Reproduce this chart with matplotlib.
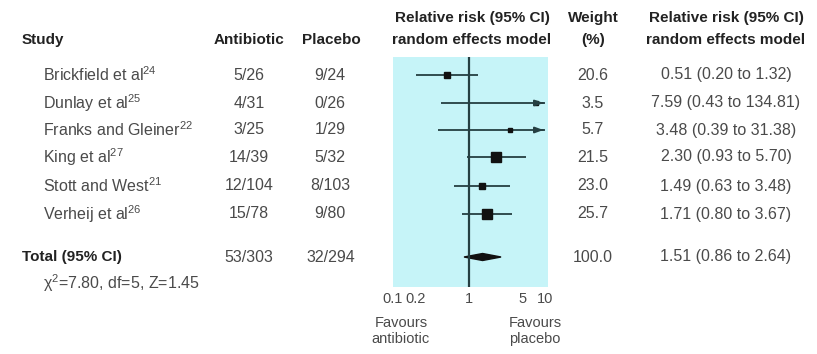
import numpy as np
import matplotlib.pyplot as plt
from matplotlib.patches import Polygon

# data
studies = ["Brickfield et al", "Dunlay et al", "Franks and Gleiner", "King et al",
           "Stott and West", "Verheij et al"]
refs = ["24", "25", "22", "27", "21", "26"]
antibiotic = ["5/26", "4/31", "3/25", "14/39", "12/104", "15/78"]
placebo = ["9/24", "0/26", "1/29", "5/32", "8/103", "9/80"]
rr = [0.51, 7.59, 3.48, 2.30, 1.49, 1.71]
lo = [0.20, 0.43, 0.39, 0.93, 0.63, 0.80]
hi = [1.32, 134.81, 31.38, 5.70, 3.48, 3.67]
weight = [20.6, 3.5, 5.7, 21.5, 23.0, 25.7]
total_counts = ["53/303", "32/294"]
total_rr, total_lo, total_hi = 1.51, 0.86, 2.64
total_weight = 100.0
stats_text = r"$\mathrm{\chi}^2$=7.80, df=5, Z=1.45"
xticks = [0.1, 0.2, 1, 5, 10]
xticklabels = ["0.1", "0.2", "1", "5", "10"]

# layout (pixels)
W, H = 817, 354
row_y = [75, 103, 130, 157, 186, 214]
total_y = 257
msize = [4, 3.5, 2.5, 7, 4, 6.5]

plt.rcParams["font.family"] = ["Liberation Sans", "DejaVu Sans"]
plt.rcParams["mathtext.fontset"] = "custom"
plt.rcParams["mathtext.rm"] = "Liberation Sans"
plt.rcParams["mathtext.it"] = "Liberation Sans"

gray = "#4a4a4a"
dark = "#222222"
line_col = "#253f42"
fs = 11.5
hfs = 11
sfs = 10.5

fig = plt.figure(figsize=(W / 100, H / 100), dpi=100)
bg = fig.add_axes([0, 0, 1, 1])
bg.set_xlim(0, W)
bg.set_ylim(H, 0)
bg.axis("off")

# forest panel, log scale: 1 sits at x=469 px, 76 px per decade
x0, x1 = 393, 548
y0, y1 = 57, 287
decade = 76.0
ax = fig.add_axes([x0 / W, 1 - y1 / H, (x1 - x0) / W, (y1 - y0) / H])
ax.set_xscale("log")
ax.set_xlim(10 ** ((x0 - 469) / decade), 10 ** ((x1 - 469) / decade))
ax.set_ylim(y1, y0)
ax.set_facecolor("#c6f4f8")
for s in ax.spines.values():
    s.set_visible(False)
ax.set_xticks([])
ax.set_yticks([])
ax.minorticks_off()
ax.axvline(1, color=line_col, lw=1.6)

for i in range(len(rr)):
    y = row_y[i]
    right = min(hi[i], 10)
    ax.plot([lo[i], right], [y, y], color=line_col, lw=1.3, solid_capstyle="butt")
    if hi[i] > 10:
        ax.annotate("", xy=(10.4, y), xytext=(8.5, y),
                    arrowprops=dict(arrowstyle="-|>,head_length=0.5,head_width=0.18",
                                    color=line_col, lw=1.3))
    ax.plot(rr[i], y, marker="s", ms=msize[i], color="#111111", mec="#111111")

# pooled estimate as a diamond
dia = Polygon([[total_lo, total_y], [total_rr, total_y - 3.5],
               [total_hi, total_y], [total_rr, total_y + 3.5]],
              closed=True, color="#111111")
ax.add_patch(dia)


def px_of(v):
    return 469 + np.log10(v) * decade


for t, lab in zip(xticks, xticklabels):
    bg.text(px_of(t), 299, lab, color=gray, fontsize=sfs, ha="center", va="center")
bg.text(401, 331, "Favours\nantibiotic", color=gray, fontsize=sfs,
        ha="center", va="center", linespacing=1.1)
bg.text(535, 331, "Favours\nplacebo", color=gray, fontsize=sfs,
        ha="center", va="center", linespacing=1.1)

# headers
hkw = dict(color=dark, fontsize=hfs, fontweight="bold", va="center")
bg.text(22, 40, "Study", ha="left", **hkw)
bg.text(249, 40, "Antibiotic", ha="center", **hkw)
bg.text(331, 40, "Placebo", ha="center", **hkw)
bg.text(472, 18, "Relative risk (95% CI)", ha="center", **hkw)
bg.text(472, 40, "random effects model", ha="center", **hkw)
bg.text(593, 18, "Weight", ha="center", **hkw)
bg.text(593, 40, "(%)", ha="center", **hkw)
bg.text(726, 18, "Relative risk (95% CI)", ha="center", **hkw)
bg.text(726, 40, "random effects model", ha="center", **hkw)

# study rows
for i in range(len(studies)):
    y = row_y[i]
    bg.text(43, y, studies[i] + r"$^{\mathrm{" + refs[i] + "}}$", color=gray, fontsize=fs,
            ha="left", va="center")
    bg.text(249, y, antibiotic[i], color=gray, fontsize=fs, ha="center", va="center")
    bg.text(330, y, placebo[i], color=gray, fontsize=fs, ha="center", va="center")
    bg.text(593, y, f"{weight[i]:.1f}", color=gray, fontsize=fs, ha="center", va="center")
    bg.text(726, y, f"{rr[i]:.2f} ({lo[i]:.2f} to {hi[i]:.2f})", color=gray,
            fontsize=fs, ha="center", va="center")

bg.text(22, total_y, "Total (95% CI)", ha="left", **hkw)
bg.text(249, total_y, total_counts[0], color=gray, fontsize=fs, ha="center", va="center")
bg.text(331, total_y, total_counts[1], color=gray, fontsize=fs, ha="center", va="center")
bg.text(593, total_y, f"{total_weight:.1f}", color=gray, fontsize=fs, ha="center", va="center")
bg.text(726, total_y, f"{total_rr:.2f} ({total_lo:.2f} to {total_hi:.2f})", color=gray,
        fontsize=fs, ha="center", va="center")
bg.text(43, 283, stats_text, color=gray, fontsize=fs, ha="left", va="center")

fig.savefig("out.png", dpi=100)
